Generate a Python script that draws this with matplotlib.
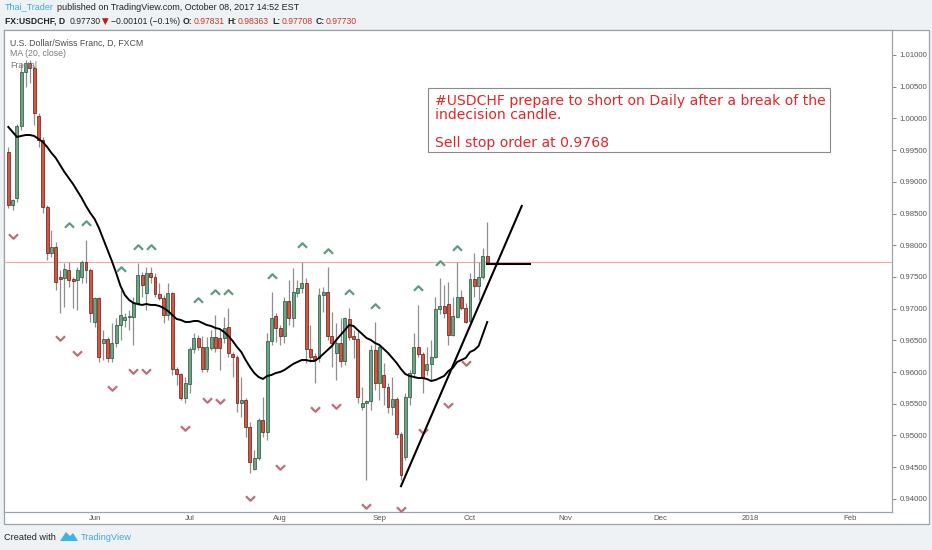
import matplotlib
matplotlib.use("Agg")
import matplotlib.pyplot as plt
from matplotlib.patches import Rectangle, Polygon
from matplotlib.path import Path
import numpy as np
import pandas as pd

W, H = 932, 550

# USDCHF daily bars, first bar 4 May 2017, last bar 6 Oct 2017
start_date = "2017-05-04"
opens = [0.9947, 0.9864, 0.9875, 0.9988, 1.0073, 1.0087, 1.0080, 1.0004, 0.9966, 0.9860,
         0.9788, 0.9797, 0.9750, 0.9748, 0.9761, 0.9747, 0.9745, 0.9750, 0.9774, 0.9761,
         0.9679, 0.9717, 0.9646, 0.9652, 0.9622, 0.9646, 0.9674, 0.9682, 0.9687, 0.9687,
         0.9709, 0.9753, 0.9725, 0.9756, 0.9750, 0.9723, 0.9717, 0.9690, 0.9725, 0.9605,
         0.9597, 0.9559, 0.9581, 0.9636, 0.9654, 0.9640, 0.9605, 0.9638, 0.9655, 0.9654,
         0.9654, 0.9671, 0.9628, 0.9624, 0.9551, 0.9556, 0.9513, 0.9447, 0.9465, 0.9524,
         0.9506, 0.9649, 0.9688, 0.9670, 0.9657, 0.9712, 0.9685, 0.9725, 0.9733, 0.9741,
         0.9636, 0.9625, 0.9622, 0.9722, 0.9726, 0.9657, 0.9630, 0.9646, 0.9617, 0.9684,
         0.9657, 0.9652, 0.9545, 0.9551, 0.9554, 0.9635, 0.9583, 0.9595, 0.9576, 0.9545,
         0.9558, 0.9502, 0.9466, 0.9561, 0.9599, 0.9640, 0.9628, 0.9603, 0.9613, 0.9624,
         0.9699, 0.9704, 0.9707, 0.9658, 0.9687, 0.9718, 0.9701, 0.9681, 0.9747, 0.9736,
         0.9750, 0.97831]
highs = [0.9955, 0.9873, 0.9991, 1.0087, 1.0092, 1.0092, 1.0083, 1.0009, 0.9971, 0.9864,
         0.9824, 0.9805, 0.9761, 0.9772, 0.9774, 0.9750, 0.9766, 0.9777, 0.9808, 0.9764,
         0.9718, 0.9718, 0.9666, 0.9655, 0.9677, 0.9685, 0.9729, 0.9693, 0.9698, 0.9718,
         0.9772, 0.9758, 0.9766, 0.9766, 0.9756, 0.9741, 0.9722, 0.9741, 0.9726, 0.9608,
         0.9599, 0.9592, 0.9640, 0.9662, 0.9658, 0.9657, 0.9655, 0.9666, 0.9690, 0.9666,
         0.9687, 0.9701, 0.9632, 0.9627, 0.9592, 0.9559, 0.9521, 0.9477, 0.9528, 0.9561,
         0.9662, 0.9726, 0.9693, 0.9674, 0.9718, 0.9745, 0.9764, 0.9745, 0.9774, 0.9748,
         0.9674, 0.9630, 0.9733, 0.9734, 0.9766, 0.9695, 0.9677, 0.9685, 0.9687, 0.9701,
         0.9666, 0.9666, 0.9576, 0.9556, 0.9643, 0.9679, 0.9643, 0.9614, 0.9583, 0.9592,
         0.9561, 0.9506, 0.9567, 0.9603, 0.9662, 0.9706, 0.9632, 0.9640, 0.9651, 0.9718,
         0.9748, 0.9737, 0.9742, 0.9718, 0.9774, 0.9729, 0.9709, 0.9756, 0.9788, 0.9774,
         0.9796, 0.98363]
lows = [0.9859, 0.9856, 0.9868, 0.9982, 1.0050, 1.0056, 0.9990, 0.9955, 0.9851, 0.9777,
        0.9782, 0.9729, 0.9693, 0.9703, 0.9734, 0.9701, 0.9698, 0.9741, 0.9741, 0.9679,
        0.9671, 0.9616, 0.9619, 0.9616, 0.9616, 0.9640, 0.9651, 0.9671, 0.9666, 0.9643,
        0.9706, 0.9718, 0.9698, 0.9741, 0.9718, 0.9714, 0.9677, 0.9682, 0.9595, 0.9580,
        0.9556, 0.9551, 0.9567, 0.9630, 0.9635, 0.9600, 0.9600, 0.9635, 0.9632, 0.9603,
        0.9646, 0.9624, 0.9592, 0.9537, 0.9529, 0.9498, 0.9441, 0.9446, 0.9461, 0.9498,
        0.9493, 0.9643, 0.9647, 0.9643, 0.9646, 0.9674, 0.9671, 0.9718, 0.9725, 0.9614,
        0.9616, 0.9583, 0.9616, 0.9695, 0.9651, 0.9608, 0.9588, 0.9608, 0.9611, 0.9651,
        0.9622, 0.9551, 0.9540, 0.9430, 0.9540, 0.9572, 0.9556, 0.9548, 0.9535, 0.9532,
        0.9496, 0.9430, 0.9461, 0.9548, 0.9591, 0.9624, 0.9567, 0.9595, 0.9588, 0.9622,
        0.9692, 0.9685, 0.9643, 0.9657, 0.9685, 0.9698, 0.9677, 0.9677, 0.9718, 0.9714,
        0.9747, 0.97708]
closes = [0.9864, 0.9871, 0.9988, 1.0073, 1.0087, 1.0080, 1.0009, 0.9966, 0.9860, 0.9788,
          0.9797, 0.9742, 0.9747, 0.9763, 0.9745, 0.9744, 0.9761, 0.9774, 0.9761, 0.9693,
          0.9717, 0.9624, 0.9652, 0.9622, 0.9646, 0.9674, 0.9690, 0.9687, 0.9688, 0.9709,
          0.9753, 0.9737, 0.9756, 0.9750, 0.9723, 0.9717, 0.9690, 0.9725, 0.9605, 0.9597,
          0.9559, 0.9583, 0.9636, 0.9654, 0.9640, 0.9605, 0.9640, 0.9655, 0.9638, 0.9638,
          0.9670, 0.9630, 0.9624, 0.9551, 0.9556, 0.9513, 0.9458, 0.9465, 0.9524, 0.9506,
          0.9649, 0.9685, 0.9670, 0.9657, 0.9712, 0.9685, 0.9726, 0.9733, 0.9741, 0.9636,
          0.9624, 0.9621, 0.9722, 0.9726, 0.9657, 0.9646, 0.9646, 0.9617, 0.9685, 0.9655,
          0.9652, 0.9561, 0.9551, 0.9554, 0.9635, 0.9583, 0.9640, 0.9576, 0.9545, 0.9558,
          0.9502, 0.9438, 0.9561, 0.9599, 0.9640, 0.9628, 0.9591, 0.9613, 0.9624, 0.9699,
          0.9704, 0.9693, 0.9658, 0.9688, 0.9718, 0.9701, 0.9679, 0.9747, 0.9736, 0.9750,
          0.9783, 0.97730]

# MA(20, close) as drawn on the chart, one value per bar
ma20 = [0.99865, 0.99786, 0.99707, 0.99723, 0.99738, 0.99738, 0.99723, 0.99675, 0.99628, 0.99549,
        0.99455, 0.99376, 0.99265, 0.99155, 0.99060, 0.98966, 0.98855, 0.98745, 0.98619, 0.98508,
        0.98414, 0.98272, 0.98098, 0.97925, 0.97751, 0.97562, 0.97357, 0.97215, 0.97136, 0.97089,
        0.97073, 0.97058, 0.97073, 0.97058, 0.97058, 0.97042, 0.97010, 0.96963, 0.96900, 0.96837,
        0.96821, 0.96790, 0.96790, 0.96805, 0.96805, 0.96774, 0.96742, 0.96726, 0.96695, 0.96679,
        0.96632, 0.96569, 0.96490, 0.96395, 0.96316, 0.96190, 0.96080, 0.95985, 0.95922, 0.95891,
        0.95938, 0.95954, 0.95985, 0.96001, 0.96033, 0.96080, 0.96127, 0.96159, 0.96190, 0.96190,
        0.96174, 0.96174, 0.96222, 0.96285, 0.96348, 0.96411, 0.96506, 0.96584, 0.96663, 0.96742,
        0.96726, 0.96663, 0.96600, 0.96537, 0.96506, 0.96458, 0.96427, 0.96364, 0.96301, 0.96222,
        0.96143, 0.96048, 0.95969, 0.95938, 0.95922, 0.95906, 0.95906, 0.95891, 0.95859, 0.95875,
        0.95906, 0.95938, 0.96017, 0.96064, 0.96159, 0.96190, 0.96222, 0.96316, 0.96348, 0.96411,
        0.96600, 0.96790]

# fractal arrows (bar index, price of the arrow)
frac_up_idx = [14, 18, 26, 30, 33, 44, 48, 51, 61, 68, 74, 79, 85, 95, 100, 104]
frac_up_val = [0.9832, 0.9835, 0.9763, 0.9797, 0.9797, 0.9714, 0.9726, 0.9726,
               0.9752, 0.9800, 0.9791, 0.9726, 0.9704, 0.9733, 0.9772, 0.9796]
frac_dn_idx = [1, 12, 16, 24, 29, 32, 41, 46, 49, 56, 63, 71, 76, 83, 91, 96, 102, 106]
frac_dn_val = [0.9815, 0.9654, 0.9630, 0.9575, 0.9602, 0.9602, 0.9512, 0.9556, 0.9554,
               0.9401, 0.9450, 0.9542, 0.9547, 0.9389, 0.9384, 0.9507, 0.9548, 0.9614]

month_labels = ["Jun", "Jul", "Aug", "Sep", "Oct", "Nov", "Dec", "2018", "Feb"]
price_ticks = [0.940, 0.945, 0.950, 0.955, 0.960, 0.965, 0.970, 0.975,
               0.980, 0.985, 0.990, 0.995, 1.000, 1.005, 1.010]
last_price = 0.97730

# drawings: rising trend line and the sell stop level
trend_idx = [91, 119]
trend_val = [0.9420, 0.9862]
stop_idx = [111, 121]
stop_val = 0.9770

note_lines = ["#USDCHF prepare to short on Daily after a break of the",
              "indecision candle.",
              "",
              "Sell stop order at 0.9768"]

UP, DOWN = "#6ba583", "#d75442"
UP_EDGE, DOWN_EDGE = "#225437", "#5b1a13"
BG = "#eff2f5"
FRAME = "#9da3a8"
RED_TXT = "#c0392b"
DARK = "#222222"


def fx(px):
    return px / W


def fy(py):
    return 1 - py / H


fig = plt.figure(figsize=(W / 100, H / 100), dpi=100, facecolor=BG)
renderer = fig.canvas.get_renderer()


def text_run(pieces, x0, y, size):
    # write pieces one after another on the same line, in pixels
    xp = x0
    for txt, gap, wt, col, fam in pieces:
        xp += gap
        t = fig.text(fx(xp), fy(y), txt, fontsize=size, family=fam,
                     fontweight=wt, color=col, va="center")
        xp += t.get_window_extent(renderer).width


# outer chart frame (plot + price scale + time scale)
fig.patches.append(Rectangle((fx(4), fy(524)), fx(929) - fx(4), fy(30) - fy(524),
                             transform=fig.transFigure, facecolor="white",
                             edgecolor=FRAME, lw=0.9, zorder=-5))

ax = fig.add_axes([fx(4), fy(512), fx(892) - fx(4), fy(30) - fy(512)])
ax.set_facecolor("white")

dates = pd.bdate_range(start_date, periods=210)
x = np.arange(len(opens))
o = np.array(opens)
c = np.array(closes)
up = c >= o

# wicks
ax.vlines(x, lows, highs, color="#8f8f8f", lw=0.9, zorder=2)
# bodies
bottom = np.minimum(o, c)
height = np.maximum(np.abs(c - o), 0.00005)
ax.bar(x, height, bottom=bottom, width=0.68,
       color=np.where(up, UP, DOWN), edgecolor=np.where(up, UP_EDGE, DOWN_EDGE),
       lw=0.5, zorder=3)

# last price line
ax.axhline(last_price, color="#f2a7a7", lw=0.8, zorder=1)

# moving average
ax.plot(x, ma20, color="black", lw=1.4, zorder=4)

# fractals
chev_up = Path([(-1, -0.5), (0, 0.5), (1, -0.5)], [Path.MOVETO, Path.LINETO, Path.LINETO])
chev_dn = Path([(-1, 0.5), (0, -0.5), (1, 0.5)], [Path.MOVETO, Path.LINETO, Path.LINETO])
ax.plot(frac_up_idx, frac_up_val, ls="none", marker=chev_up, ms=6.5, mew=1.6,
        mfc="none", mec="#5f9c7f", zorder=4)
ax.plot(frac_dn_idx, frac_dn_val, ls="none", marker=chev_dn, ms=6.5, mew=1.6,
        mfc="none", mec="#c06d7b", zorder=4)

# drawings
ax.plot(trend_idx, trend_val, color="black", lw=1.5, zorder=5)
ax.plot(stop_idx, [stop_val, stop_val], color="black", lw=1.5, zorder=5)

ax.set_xlim(-1.0, 204.8)
ax.set_ylim(0.93793, 1.01394)

# axes styling
for s in ax.spines.values():
    s.set_color(FRAME)
    s.set_linewidth(0.9)

month_pos = [i for i in range(1, len(dates)) if dates[i].month != dates[i - 1].month]
ax.set_xticks(month_pos[:len(month_labels)])
ax.set_xticklabels(month_labels)
ax.tick_params(axis="x", length=0, pad=2.5, labelsize=5.6, labelcolor="#555555")
for t in ax.get_xticklabels():
    t.set_fontfamily("Liberation Sans")

ax.yaxis.tick_right()
ax.set_yticks(price_ticks)
ax.set_yticklabels([f"{p:.5f}" for p in price_ticks])
ax.tick_params(axis="y", length=3, width=0.7, color="#888888", pad=2.5,
               labelsize=5.6, labelcolor="#555555")
for t in ax.get_yticklabels():
    t.set_fontfamily("Liberation Sans")

# legend lines in the pane
fig.text(fx(10), fy(43), "U.S. Dollar/Swiss Franc, D, FXCM", fontsize=6.3,
         family="Liberation Sans", color="#4d4d4d", va="center")
fig.text(fx(10), fy(54), "MA (20, close)", fontsize=6.3,
         family="Liberation Sans", color="#7a7a7a", va="center")
fig.text(fx(10), fy(65), "Fractal", fontsize=6.3,
         family="Liberation Sans", color="#7a7a7a", va="center")

# note box
fig.patches.append(Rectangle((fx(428), fy(152)), fx(830) - fx(428), fy(88) - fy(152),
                             transform=fig.transFigure, facecolor="white",
                             edgecolor="#8a8a8a", lw=0.8, zorder=2))
for k, line in enumerate(note_lines):
    fig.text(fx(435), fy(101 + k * 14), line, fontsize=10.1, family="DejaVu Sans",
             color="#e3262a", va="center", zorder=3)

# header
LS = "Liberation Sans"
text_run([("Thai_Trader", 0, "normal", "#3fa9d6", LS),
          ("published on TradingView.com, October 08, 2017 14:52 EST", 3, "normal", DARK, LS)],
         5, 7, 6.5)
text_run([("FX:USDCHF, D", 0, "bold", DARK, LS),
          ("0.97730", 4, "normal", DARK, LS),
          ("▼", 2, "normal", "#b71c1c", "DejaVu Sans"),
          ("−0.00101 (−0.1%)", 2, "normal", DARK, LS),
          ("O:", 3, "bold", DARK, LS), ("0.97831", 1, "normal", RED_TXT, LS),
          ("H:", 3, "bold", DARK, LS), ("0.98363", 1, "normal", RED_TXT, LS),
          ("L:", 3, "bold", DARK, LS), ("0.97708", 1, "normal", RED_TXT, LS),
          ("C:", 3, "bold", DARK, LS), ("0.97730", 1, "normal", RED_TXT, LS)],
         5, 21, 6.2)

# footer
fig.text(fx(4), fy(537), "Created with", fontsize=6.6, family=LS,
         color=DARK, va="center")
fig.patches.append(Polygon([(fx(60), fy(541)), (fx(66), fy(532)), (fx(70), fy(536)),
                            (fx(73), fy(533)), (fx(78), fy(541))], closed=True,
                           transform=fig.transFigure, facecolor="#3db3e6",
                           edgecolor="none"))
fig.text(fx(81), fy(537), "TradingView", fontsize=6.6, family=LS,
         color="#3fa9d6", va="center")

fig.savefig("out.png", dpi=100, facecolor=BG)
